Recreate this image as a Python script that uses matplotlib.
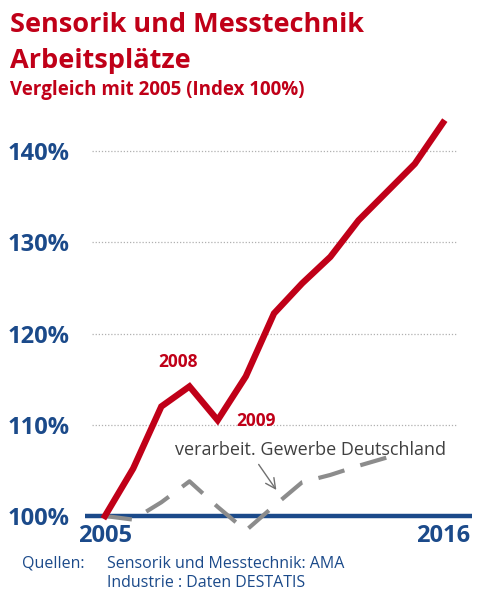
import matplotlib
matplotlib.use("Agg")
import matplotlib.pyplot as plt

plt.rcParams['font.family'] = ['Open Sans', 'DejaVu Sans']

# data (index 0 = 2005)
sensorik = [100.0, 105.2, 112.0, 114.2, 110.5, 115.3, 122.2, 125.5, 128.4, 132.4, 135.5, 138.6, 143.1]
industrie = [100.0, 99.6, 101.5, 103.8, 101.0, 98.4, 101.1, 103.7, 104.5, 105.5, 106.4]
y_ticks = [100, 110, 120, 130, 140]
y_labels = ['100%', '110%', '120%', '130%', '140%']
x_ticks = [0, 12]
x_labels = ['2005', '2016']

RED = '#C00018'
BLUE = '#1B4A8A'
GREY = '#8C8C8C'

fig = plt.figure(figsize=(4.88, 6.0), dpi=100)
# axes bottom sits just under the 100% line so the year labels hug it
ax = fig.add_axes([85 / 488, 79 / 600, 387 / 488, 411 / 600])
ax.set_xlim(-0.71, 13.03)
ax.set_ylim(99.45, 144.5)

# dotted grid lines
for v in y_ticks[1:]:
    ax.plot([-0.46, 12.46], [v, v], color='#B0B0B0', lw=0.9, ls=(0, (1, 1.5)), zorder=1)

ax.axhline(100, color=BLUE, lw=3.2, zorder=2)
ax.plot(range(len(industrie)), industrie, color=GREY, lw=3.0,
        dashes=(6.5, 4), zorder=3, clip_on=False)
ax.plot(range(len(sensorik)), sensorik, color=RED, lw=4.6, zorder=4,
        solid_joinstyle='miter', clip_on=False)

for s in ax.spines.values():
    s.set_visible(False)
ax.set_yticks(y_ticks)
ax.set_yticklabels(y_labels, fontsize=17, fontweight='bold', color=BLUE)
ax.set_xticks(x_ticks)
ax.set_xticklabels(x_labels, fontsize=17, fontweight='bold', color=BLUE)
ax.tick_params(axis='y', length=0, pad=11)
ax.tick_params(axis='x', length=0, pad=2.5)

# annotations
ax.text(3 - 0.4, sensorik[3] + 1.7, '2008', color=RED, fontsize=12.5,
        fontweight='bold', ha='center', va='bottom')
ax.text(4 + 1.35, sensorik[4] - 0.1, '2009', color=RED, fontsize=12.5,
        fontweight='bold', ha='center', va='center')
ax.text(7.3, 107.2, 'verarbeit. Gewerbe Deutschland', color='#404040',
        fontsize=13, ha='center', va='center')
ax.annotate('', xy=(6.14, 102.6), xytext=(5.4, 105.9),
            arrowprops=dict(arrowstyle='->', color='#707070', lw=1.0,
                            mutation_scale=18))

# titles
fig.text(10 / 488, 1 - 12 / 600, 'Sensorik und Messtechnik', color=RED,
         fontsize=19.5, fontweight='bold', va='top')
fig.text(10 / 488, 1 - 48 / 600, 'Arbeitsplätze', color=RED,
         fontsize=19.5, fontweight='bold', va='top')
fig.text(10 / 488, 1 - 80 / 600, 'Vergleich mit 2005 (Index 100%)', color=RED,
         fontsize=13.5, fontweight='bold', va='top')

# sources
fig.text(22 / 488, 1 - 564 / 600, 'Quellen:', color=BLUE, fontsize=11.5, va='center')
fig.text(107 / 488, 1 - 564 / 600, 'Sensorik und Messtechnik: AMA', color=BLUE,
         fontsize=11.5, va='center')
fig.text(107 / 488, 1 - 583 / 600, 'Industrie : Daten DESTATIS', color=BLUE,
         fontsize=11.5, va='center')

fig.savefig('out.png', dpi=100)
